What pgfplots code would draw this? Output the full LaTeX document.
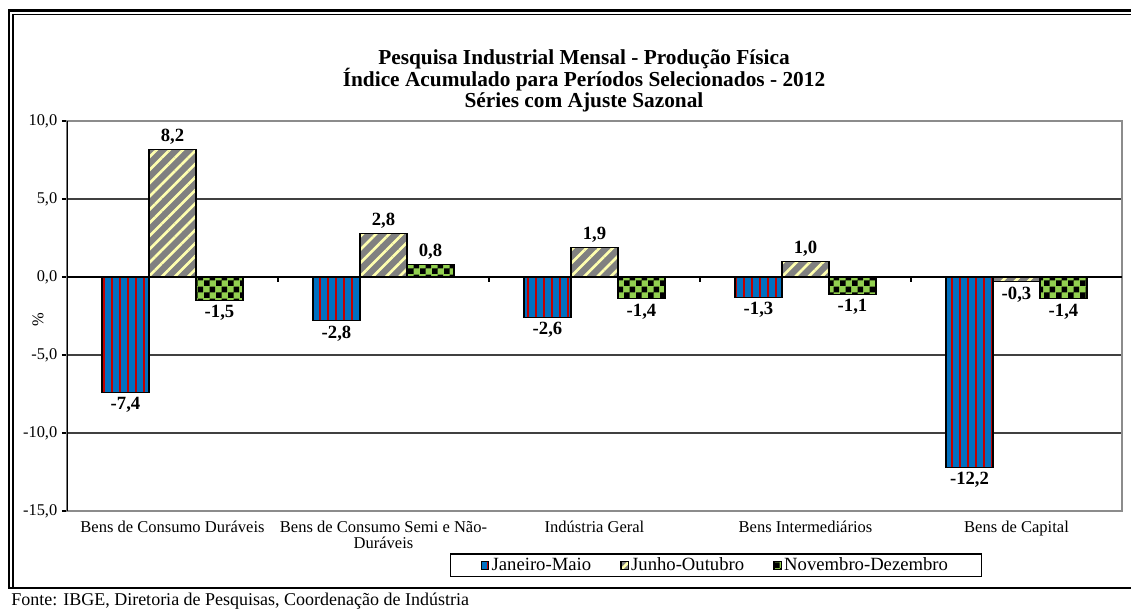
\documentclass[border=0pt]{standalone}
\usepackage{fontspec}
\setmainfont{Liberation Serif}
\usepackage{pgfplots}
\pgfplotsset{compat=1.18}
\usetikzlibrary{patterns,patterns.meta}

\definecolor{cblue}{RGB}{0,112,192}
\definecolor{cred}{RGB}{192,0,0}
\definecolor{cgray}{RGB}{128,128,128}
\definecolor{cyel}{RGB}{255,255,175}
\definecolor{cgreen}{RGB}{146,208,80}

\pgfdeclarepatternformonly{mycheck}{\pgfqpoint{0pt}{0pt}}{\pgfqpoint{9pt}{9pt}}{\pgfqpoint{9pt}{9pt}}{%
  \pgfpathrectangle{\pgfqpoint{0pt}{0pt}}{\pgfqpoint{4.5pt}{4.5pt}}%
  \pgfpathrectangle{\pgfqpoint{4.5pt}{4.5pt}}{\pgfqpoint{4.5pt}{4.5pt}}%
  \pgfusepath{fill}}

\newcommand{\titlefont}{\bfseries\fontsize{16}{16}\selectfont\lineskiplimit=-10pt\relax}

\begin{document}
\begin{tikzpicture}
\begin{scope}[x=0.75pt,y=-0.75pt]
  \useasboundingbox (0,0) rectangle (1131,610);
  \draw[black, line width=1.6pt] (9,588) -- (9,10.5) -- (1131,10.5);
  \draw[black, line width=0.8pt] (13,588) -- (13,14.5) -- (1131,14.5);
  \draw[black, line width=1.6pt] (8,588) -- (1131,588);
  \node[align=center, font=\titlefont] at (584,81)
    {Pesquisa Industrial Mensal - Produção Física\\Índice Acumulado para Períodos Selecionados - 2012\\Séries com Ajuste Sazonal};
  \node[anchor=west, font=\fontsize{13.5}{15}\selectfont, inner sep=0pt] at (11,601)
    {Fonte: IBGE, Diretoria de Pesquisas, Coordenação de Indústria};
\end{scope}

\begin{axis}[
  at={(50.25pt,-90.75pt)}, anchor=north west,
  scale only axis, width=791.25pt, height=292.5pt,
  ybar=0pt, bar width=35.25pt,
  xmin=-0.5, xmax=4.5, ymin=-15, ymax=10,
  xtick={0,1,2,3,4},
  xticklabels={Bens de Consumo Duráveis,{Bens de Consumo Semi e Não-\\Duráveis},Indústria Geral,Bens Intermediários,Bens de Capital},
  xtick style={draw=none},
  xticklabel style={font=\fontsize{12.4}{12}\selectfont, align=center},
  ytick={-15,-10,-5,0,5,10},
  ytick pos=left,
  tick align=outside,
  major tick length=3.75pt,
  ytick style={black, line width=0.8pt},
  yticklabel style={font=\fontsize{12.3}{13}\selectfont},
  ymajorgrids,
  grid style={color=black!75, line width=0.8pt},
  axis line style={draw=black!45, line width=1.1pt},
  ylabel={\%},
  ylabel style={at={(axis description cs:-0.0275,0.49)}, anchor=center, font=\fontsize{12.3}{13}\selectfont},
  /pgf/number format/.cd, fixed, fixed zerofill, precision=1, use comma, assume math mode=true,
  /pgfplots/.cd,
  nodes near coords,
  nodes near coords style={font=\bfseries\fontsize{14}{14}\selectfont},
  legend style={at={(0.615,-0.1397)}, anchor=center, draw=black, line width=0.8pt,
    legend columns=3, font=\fontsize{14}{14}\selectfont,
    /tikz/every even column/.append style={column sep=20pt},
    inner xsep=23pt, inner ysep=1pt},
  legend image code/.code={\draw[#1, line width=0.4pt] (0pt,-2.8pt) rectangle (5.6pt,2.8pt);},
]
\addplot[draw=black, line width=0.8pt, preaction={fill=cblue},
  pattern={Lines[angle=90,distance=6pt,line width=2.2pt]}, pattern color=cred]
  coordinates {(0,-7.4) (1,-2.8) (2,-2.6) (3,-1.3) (4,-12.2)};
\addplot[draw=black, line width=0.8pt, preaction={fill=cgray},
  pattern={Lines[angle=45,distance=7pt,line width=2pt]}, pattern color=cyel]
  coordinates {(0,8.2) (1,2.8) (2,1.9) (3,1.0) (4,-0.3)};
\addplot[draw=black, line width=0.8pt, preaction={fill=cgreen},
  pattern=mycheck, pattern color=black]
  coordinates {(0,-1.5) (1,0.8) (2,-1.4) (3,-1.1) (4,-1.4)};
\legend{Janeiro-Maio,Junho-Outubro,Novembro-Dezembro}
\draw[black, line width=1.5pt] (axis cs:-0.5,0) -- (axis cs:4.5,0);
\draw[black, line width=1.2pt] (rel axis cs:0,0) -- (rel axis cs:0,1);
\draw[black, line width=0.8pt] (axis cs:0.5,0) -- (axis cs:0.5,-0.3);
\draw[black, line width=0.8pt] (axis cs:1.5,0) -- (axis cs:1.5,-0.3);
\draw[black, line width=0.8pt] (axis cs:2.5,0) -- (axis cs:2.5,-0.3);
\draw[black, line width=0.8pt] (axis cs:3.5,0) -- (axis cs:3.5,-0.3);
\end{axis}
\end{tikzpicture}
\end{document}
